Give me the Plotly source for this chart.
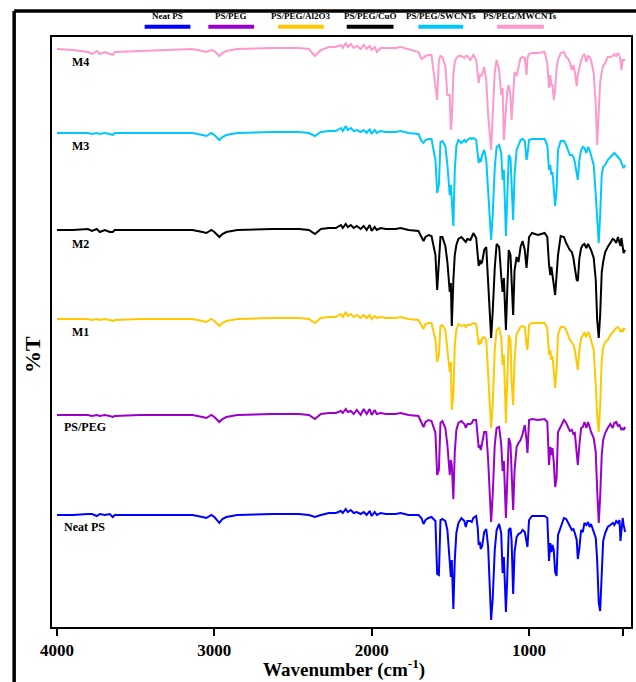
import plotly.graph_objects as go

# ---------------- data ----------------
WN_LEFT = [4000, 3899, 3804, 3778, 3747, 3728, 3696, 3665, 3646, 3633,
           3475, 3266, 3139, 3076, 3051, 3019, 3000, 2968, 2949, 2924,
           2854, 2633, 2462, 2399, 2361, 2323, 2272, 2228, 2196, 2184,
           2165, 2152, 2133, 2114, 2095, 2070, 2051, 2032, 2013, 2000,
           1981, 1968, 1943, 1911, 1848, 1816, 1766, 1703]
WN_RIGHT = [1684, 1671, 1658, 1639, 1620, 1595, 1584, 1573, 1563, 1551,
            1532, 1519, 1504, 1497, 1491, 1481, 1472, 1462, 1449, 1430,
            1411, 1402, 1392, 1373, 1364, 1354, 1336, 1326, 1320, 1313,
            1307, 1298, 1285, 1272, 1260, 1241, 1231, 1218, 1206, 1190,
            1177, 1168, 1160, 1147, 1139, 1129, 1118, 1111, 1101, 1092,
            1079, 1067, 1054, 1041, 1027, 1016, 1010, 1000, 981, 943,
            901, 884, 873, 865, 858, 851, 843, 834, 825, 816,
            799, 778, 764, 750, 741, 728, 718, 709, 697, 690,
            680, 669, 658, 648, 636, 625, 615, 606, 589, 576,
            567, 557, 548, 538, 529, 516, 500, 483, 468, 458,
            446, 435, 425, 419, 413, 405, 399, 389]
wavenumber = WN_LEFT + WN_RIGHT

neat_ps = [112, 112, 113, 113, 111, 113, 112, 113, 110, 112,
           112, 112, 112, 110, 109, 112, 110, 104, 108, 110,
           112, 113, 113, 112, 110, 112, 114, 114, 116, 114,
           118, 115, 117, 114, 115, 113, 115, 112, 116, 111,
           115, 112, 114, 113, 113, 114, 112, 112] + \
          [109, 103, 107, 109, 110, 106, 53, 52, 107, 108,
           106, 97, 61, 50, 67, 18, 67, 94, 104, 109,
           106, 100, 106, 106, 105, 109, 111, 99, 82, 85,
           78, 81, 95, 98, 80, 7, 28, 77, 97, 103,
           94, 54, 70, 15, 47, 97, 99, 87, 33, 75,
           90, 93, 94, 97, 95, 86, 80, 107, 111, 111,
           111, 109, 66, 84, 75, 82, 77, 55, 51, 92,
           100, 109, 108, 103, 101, 97, 98, 94, 87, 68,
           79, 97, 95, 104, 102, 105, 100, 103, 96, 89,
           67, 24, 16, 60, 86, 94, 100, 102, 104, 102,
           106, 104, 107, 86, 98, 109, 102, 95]

ps_peg = [212, 212, 212, 211, 212, 211, 212, 211, 210, 211,
          212, 212, 212, 210, 209, 212, 210, 205, 208, 210,
          212, 213, 213, 212, 208, 213, 214, 214, 216, 214,
          218, 215, 216, 213, 217, 212, 218, 213, 218, 212,
          217, 213, 214, 213, 213, 214, 212, 211] + \
         [205, 200, 205, 207, 206, 194, 152, 157, 204, 206,
          199, 182, 152, 167, 162, 128, 175, 197, 204, 206,
          203, 199, 203, 203, 204, 207, 207, 185, 179, 182,
          177, 184, 195, 195, 167, 105, 132, 182, 199, 200,
          183, 156, 166, 109, 143, 189, 183, 157, 117, 157,
          180, 184, 187, 193, 202, 187, 174, 207, 208, 207,
          208, 205, 162, 180, 172, 179, 165, 140, 149, 195,
          200, 207, 204, 199, 196, 197, 193, 194, 175, 162,
          182, 199, 200, 205, 199, 205, 200, 195, 189, 175,
          137, 104, 130, 172, 187, 194, 199, 203, 199, 204,
          205, 201, 202, 199, 197, 199, 197, 200]

ps_peg_al2o3 = [308, 308, 308, 307, 308, 307, 308, 307, 306, 307,
                308, 308, 308, 306, 305, 308, 306, 301, 304, 306,
                308, 309, 309, 308, 304, 309, 310, 310, 313, 310,
                315, 311, 313, 310, 312, 309, 312, 309, 312, 308,
                311, 309, 310, 309, 309, 310, 308, 307] + \
               [301, 298, 303, 304, 304, 287, 265, 272, 301, 302,
                297, 277, 255, 265, 217, 232, 282, 297, 303, 301,
                302, 300, 302, 302, 303, 304, 303, 287, 282, 287,
                283, 289, 290, 287, 252, 199, 222, 277, 297, 299,
                289, 262, 272, 204, 242, 292, 287, 247, 222, 267,
                293, 297, 300, 301, 300, 282, 277, 302, 304, 304,
                304, 299, 272, 277, 267, 271, 257, 239, 257, 292,
                300, 300, 297, 292, 287, 285, 282, 277, 265, 257,
                277, 289, 292, 294, 290, 295, 292, 287, 277, 242,
                212, 195, 222, 267, 279, 285, 287, 292, 295, 297,
                299, 300, 298, 295, 297, 295, 299, 297]

ps_peg_cuo = [397, 397, 398, 396, 398, 395, 397, 395, 395, 397,
              397, 397, 397, 395, 394, 397, 395, 390, 393, 395,
              397, 398, 398, 397, 393, 398, 399, 399, 402, 399,
              403, 400, 402, 399, 401, 398, 401, 397, 402, 396,
              400, 397, 399, 398, 398, 399, 397, 396] + \
             [389, 386, 390, 392, 391, 372, 337, 372, 390, 390,
              381, 365, 335, 344, 301, 347, 372, 382, 388, 390,
              387, 385, 388, 387, 390, 394, 389, 367, 361, 367,
              363, 365, 377, 380, 344, 289, 315, 359, 383, 380,
              351, 335, 349, 297, 334, 377, 372, 342, 312, 357,
              370, 365, 380, 386, 377, 359, 372, 390, 394, 392,
              394, 390, 362, 352, 360, 352, 342, 332, 352, 372,
              391, 390, 384, 379, 377, 375, 369, 359, 347, 346,
              369, 379, 382, 383, 379, 383, 380, 377, 369, 347,
              307, 289, 312, 355, 365, 375, 380, 385, 388, 387,
              384, 390, 383, 381, 389, 382, 374, 377]

ps_peg_swcnts = [494, 494, 494, 493, 494, 493, 494, 493, 492, 494,
                 494, 494, 494, 492, 491, 494, 492, 487, 490, 492,
                 494, 495, 495, 494, 491, 495, 496, 496, 499, 496,
                 501, 497, 499, 496, 497, 495, 497, 494, 498, 493,
                 497, 494, 496, 495, 495, 496, 494, 493] + \
                [486, 484, 487, 488, 488, 467, 434, 442, 485, 486,
                 481, 462, 432, 442, 427, 401, 457, 481, 487, 484,
                 487, 485, 487, 489, 488, 489, 487, 470, 464, 469,
                 465, 472, 477, 467, 437, 387, 412, 459, 480, 482,
                 474, 447, 457, 391, 427, 472, 469, 437, 407, 452,
                 477, 482, 487, 488, 486, 467, 472, 487, 488, 488,
                 488, 482, 457, 462, 452, 455, 442, 421, 437, 477,
                 486, 486, 482, 477, 472, 472, 470, 465, 452, 447,
                 467, 477, 480, 479, 474, 480, 477, 472, 462, 432,
                 402, 384, 412, 452, 460, 462, 467, 470, 472, 474,
                 472, 470, 469, 467, 464, 461, 459, 462]

ps_peg_mwcnts = [578, 577, 575, 573, 576, 573, 575, 573, 572, 575,
                 576, 577, 578, 576, 575, 577, 576, 571, 574, 576,
                 578, 579, 579, 578, 571, 577, 580, 580, 582, 579,
                 584, 580, 583, 579, 581, 578, 582, 578, 581, 577,
                 580, 575, 579, 579, 579, 580, 578, 575] + \
                [568, 569, 571, 572, 572, 542, 527, 567, 571, 570,
                 561, 532, 532, 497, 507, 552, 565, 569, 571, 571,
                 569, 571, 571, 567, 570, 572, 567, 550, 544, 552,
                 551, 552, 560, 547, 512, 477, 512, 555, 567, 557,
                 532, 539, 487, 517, 535, 542, 532, 507, 537, 555,
                 551, 561, 569, 570, 569, 552, 569, 573, 574, 574,
                 575, 564, 539, 552, 541, 543, 527, 537, 559, 567,
                 574, 575, 570, 568, 565, 557, 562, 555, 541, 552,
                 561, 567, 571, 573, 565, 571, 570, 567, 554, 522,
                 482, 517, 545, 555, 561, 564, 570, 570, 571, 573,
                 571, 574, 571, 567, 557, 567, 567, 567]

series_names = ["Neat PS", "PS/PEG", "PS/PEG/Al2O3", "PS/PEG/CuO",
                "PS/PEG/SWCNTs", "PS/PEG/MWCNTs"]
series_values = [neat_ps, ps_peg, ps_peg_al2o3, ps_peg_cuo,
                 ps_peg_swcnts, ps_peg_mwcnts]
series_colors = ["#0000FF", "#9900CC", "#FFC800", "#000000",
                 "#00C8FF", "#FF99CC"]
curve_labels = ["Neat PS", "PS/PEG", "M1", "M2", "M3", "M4"]
curve_label_pos = [(3968, 100), (3968, 200), (3918, 295),
                   (3918, 383), (3918, 481), (3918, 565)]

x_ticks = [4000, 3000, 2000, 1000, 400]

FONT = "Liberation Serif"

# ---------------- figure ----------------
fig = go.Figure()
for name, vals, col in zip(series_names, series_values, series_colors):
    assert len(vals) == len(wavenumber), name
    fig.add_trace(go.Scatter(x=wavenumber, y=vals, mode="lines", name=name,
                             line=dict(color=col, width=2), showlegend=False))

annotations = []
for lab, (xv, yv) in zip(curve_labels, curve_label_pos):
    annotations.append(dict(x=xv, y=yv, xref="x", yref="y", text=f"<b>{lab}</b>",
                            showarrow=False, xanchor="left", yanchor="middle",
                            font=dict(family=FONT, size=12, color="black")))

# custom legend: label above a thick line sample
W = 581.5
def px2paper(px):
    return (px - 52) / W

legend_spans = [(143, 193), (207, 257), (277, 327), (346, 397), (418, 467), (497, 548)]
shapes = []
for name, col, (a, b) in zip(series_names, series_colors, legend_spans):
    shapes.append(dict(type="line", xref="paper", yref="paper",
                       x0=px2paper(a + 2), x1=px2paper(b - 2), y0=1.0175, y1=1.0175,
                       line=dict(color=col, width=4)))
    annotations.append(dict(x=px2paper((a + b) / 2), y=1.0245, xref="paper", yref="paper",
                            text=f"<b>{name}</b>", showarrow=False,
                            xanchor="center", yanchor="bottom",
                            font=dict(family=FONT, size=9, color="black")))

# outer frame (thick) left and top
top_y = (627 - 11) / 590
left_x = px2paper(14)
shapes.append(dict(type="line", xref="paper", yref="paper", x0=left_x, x1=1.2,
                   y0=top_y, y1=top_y, line=dict(color="black", width=3.5)))
shapes.append(dict(type="line", xref="paper", yref="paper", x0=left_x, x1=left_x,
                   y0=top_y, y1=-0.2, line=dict(color="black", width=3.5)))

# axis titles
annotations.append(dict(x=px2paper(345), y=(627 - 668) / 590, xref="paper", yref="paper",
                        text="<b>Wavenumber (cm<sup>-1</sup>)</b>", showarrow=False,
                        xanchor="center", yanchor="middle",
                        font=dict(family=FONT, size=19, color="black")))
annotations.append(dict(x=px2paper(33), y=(627 - 355) / 590, xref="paper", yref="paper",
                        text="<b>%T</b>", showarrow=False, textangle=-90,
                        xanchor="center", yanchor="middle",
                        font=dict(family=FONT, size=22, color="black")))

fig.update_layout(
    width=636, height=682,
    margin=dict(l=52, r=3, t=37, b=55),
    paper_bgcolor="white", plot_bgcolor="white",
    annotations=annotations, shapes=shapes,
    xaxis=dict(range=[4032, 352], tickvals=x_ticks, ticktext=[str(v) for v in x_ticks],
               showgrid=False, zeroline=False, showline=True, mirror=True,
               linecolor="black", linewidth=1.5, ticks="outside", ticklen=7,
               tickwidth=1.5, tickcolor="black",
               tickfont=dict(family=FONT, size=17, color="black", weight="bold")),
    yaxis=dict(range=[0, 590], showticklabels=False, showgrid=False, zeroline=False,
               showline=True, mirror=True, linecolor="black", linewidth=1.5, ticks=""),
)

fig.write_html("out.html")
